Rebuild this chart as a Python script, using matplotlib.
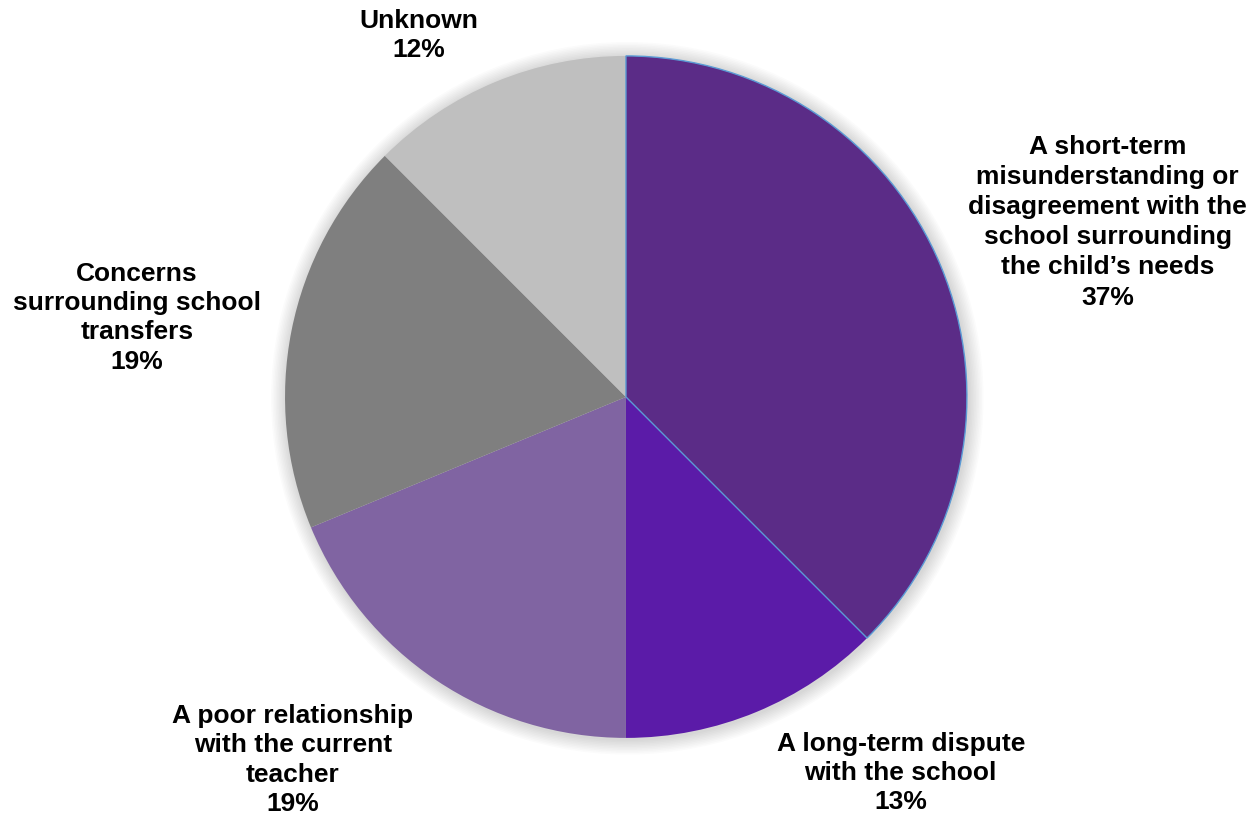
import numpy as np
import matplotlib.pyplot as plt

plt.rcParams['font.family'] = ['Liberation Sans', 'DejaVu Sans']

categories = [
    "A short-term\nmisunderstanding or\ndisagreement with the\nschool surrounding\nthe child\u2019s needs",
    "A long-term dispute\nwith the school",
    "A poor relationship\nwith the current\nteacher",
    "Concerns\nsurrounding school\ntransfers",
    "Unknown",
]
counts = [6, 2, 3, 3, 2]
pct_labels = ["37%", "13%", "19%", "19%", "12%"]
colors = ["#5B2C87", "#5B1BA8", "#8064A2", "#7F7F7F", "#BFBFBF"]

# label centres in units of pie radius
label_xy = [(1.413, 0.512), (0.806, -1.103), (-0.977, -1.065),
            (-1.434, 0.232), (-0.607, 1.060)]
label_spacing = [1.32, 1.28, 1.28, 1.28, 1.28]

fig = plt.figure(figsize=(12.55, 8.16), dpi=100)
ax = fig.add_axes([0, 0, 1, 1])

# soft shadow round the pie
for k in range(10):
    ax.add_patch(plt.Circle((0.004, -0.004), 1.0 + 0.0045 * (k + 1),
                            color='#000000', alpha=0.014, lw=0, zorder=0))

wedges, _ = ax.pie(counts, colors=colors, startangle=90, counterclock=False,
                   radius=1.0, wedgeprops=dict(linewidth=0))
for w in wedges:
    w.set_zorder(2)
wedges[0].set_edgecolor('#5B9BD5')
wedges[0].set_linewidth(1.0)
wedges[0].set_zorder(3)

for (x, y), cat, pct, ls in zip(label_xy, categories, pct_labels, label_spacing):
    ax.text(x, y, cat + "\n" + pct, ha='center', va='center', fontsize=19,
            fontweight='bold', color='black', linespacing=ls)

ax.set_aspect('auto')
ax.set_xlim(-1.836, 1.845)
ax.set_ylim(-1.229, 1.164)
ax.axis('off')

fig.savefig("out.png", dpi=100)
